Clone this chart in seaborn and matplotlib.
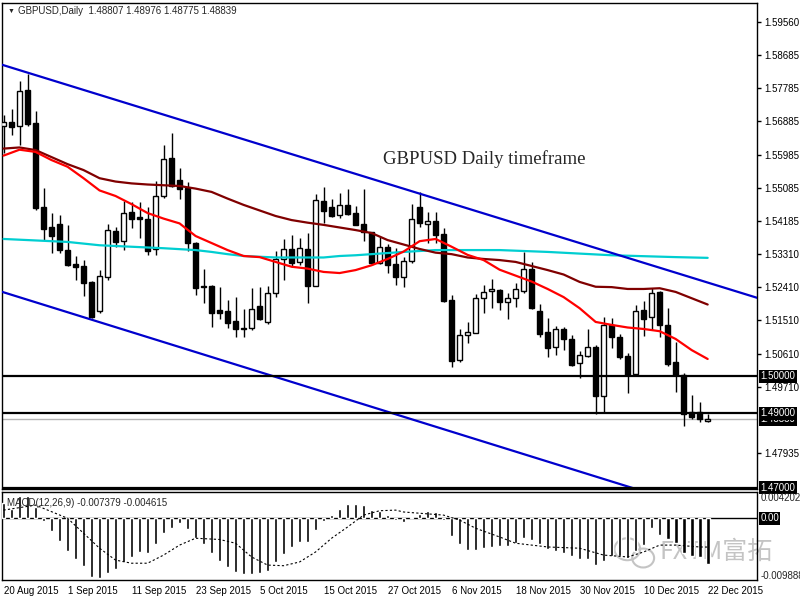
import numpy as np
import pandas as pd
import matplotlib
matplotlib.use("Agg")
import matplotlib.pyplot as plt
import seaborn as sns
from matplotlib.patches import Ellipse

# GBPUSD daily candles, 20 Aug 2015 .. 22 Dec 2015
opens = [1.5677, 1.5686, 1.5677, 1.5773, 1.5683, 1.5457, 1.5402, 1.5411, 1.5340, 1.5303,
         1.5298, 1.5255, 1.5177, 1.5267, 1.5392, 1.5365, 1.5443, 1.5430, 1.5425, 1.5343,
         1.5488, 1.5589, 1.5529, 1.5508, 1.5361, 1.5244, 1.5244, 1.5179, 1.5176, 1.5149,
         1.5130, 1.5130, 1.5190, 1.5147, 1.5224, 1.5316, 1.5343, 1.5308, 1.5344, 1.5245,
         1.5473, 1.5456, 1.5437, 1.5463, 1.5440, 1.5411, 1.5389, 1.5305, 1.5348, 1.5303,
         1.5267, 1.5311, 1.5456, 1.5412, 1.5419, 1.5384, 1.5206, 1.5044, 1.5113, 1.5118,
         1.5211, 1.5230, 1.5233, 1.5200, 1.5211, 1.5230, 1.5289, 1.5176, 1.5120, 1.5080,
         1.5127, 1.5101, 1.5035, 1.5056, 1.5079, 1.4948, 1.5140, 1.5105, 1.5055, 1.5006,
         1.5179, 1.5159, 1.5228, 1.5140, 1.5039, 1.5003, 1.4904, 1.4903, 1.48807]
highs = [1.5706, 1.5721, 1.5798, 1.5816, 1.5716, 1.5509, 1.5440, 1.5436, 1.5409, 1.5325,
         1.5314, 1.5258, 1.5287, 1.5411, 1.5404, 1.5474, 1.5471, 1.5471, 1.5456, 1.5527,
         1.5625, 1.5656, 1.5562, 1.5525, 1.5363, 1.5290, 1.5246, 1.5240, 1.5206, 1.5213,
         1.5182, 1.5238, 1.5242, 1.5244, 1.5338, 1.5371, 1.5381, 1.5373, 1.5386, 1.5492,
         1.5510, 1.5478, 1.5494, 1.5505, 1.5460, 1.5505, 1.5391, 1.5377, 1.5357, 1.5346,
         1.5323, 1.5465, 1.5497, 1.5443, 1.5443, 1.5400, 1.5220, 1.5127, 1.5147, 1.5222,
         1.5246, 1.5263, 1.5235, 1.5224, 1.5251, 1.5336, 1.5309, 1.5195, 1.5157, 1.5136,
         1.5132, 1.5113, 1.5069, 1.5127, 1.5084, 1.5159, 1.5157, 1.5114, 1.5062, 1.5194,
         1.5203, 1.5238, 1.5230, 1.5184, 1.5093, 1.5008, 1.4951, 1.4930, 1.48976]
lows = [1.5603, 1.5652, 1.5625, 1.5676, 1.5449, 1.5368, 1.5334, 1.5332, 1.5298, 1.5260,
        1.5217, 1.5157, 1.5170, 1.5260, 1.5350, 1.5341, 1.5400, 1.5373, 1.5328, 1.5328,
        1.5482, 1.5512, 1.5478, 1.5339, 1.5221, 1.5199, 1.5134, 1.5155, 1.5130, 1.5105,
        1.5107, 1.5125, 1.5152, 1.5141, 1.5215, 1.5260, 1.5296, 1.5301, 1.5199, 1.5244,
        1.5413, 1.5429, 1.5427, 1.5436, 1.5409, 1.5366, 1.5301, 1.5303, 1.5280, 1.5248,
        1.5242, 1.5307, 1.5404, 1.5359, 1.5359, 1.5202, 1.5026, 1.5040, 1.5089, 1.5116,
        1.5172, 1.5185, 1.5179, 1.5154, 1.5188, 1.5224, 1.5182, 1.5107, 1.5053, 1.5057,
        1.5071, 1.5028, 1.4995, 1.5053, 1.4898, 1.4900, 1.5077, 1.5046, 1.4956, 1.5004,
        1.5109, 1.5125, 1.5107, 1.5028, 1.4958, 1.4867, 1.4885, 1.4877, 1.48775]
closes = [1.5686, 1.5672, 1.5771, 1.5681, 1.5455, 1.5399, 1.5380, 1.5341, 1.5302, 1.5296,
          1.5253, 1.5159, 1.5271, 1.5394, 1.5363, 1.5440, 1.5424, 1.5424, 1.5339, 1.5486,
          1.5586, 1.5514, 1.5505, 1.5360, 1.5239, 1.5240, 1.5172, 1.5172, 1.5145, 1.5127,
          1.5127, 1.5181, 1.5154, 1.5224, 1.5316, 1.5343, 1.5307, 1.5346, 1.5245, 1.5475,
          1.5447, 1.5434, 1.5463, 1.5439, 1.5410, 1.5389, 1.5307, 1.5348, 1.5302, 1.5267,
          1.5311, 1.5424, 1.5413, 1.5419, 1.5383, 1.5204, 1.5042, 1.5113, 1.5119, 1.5211,
          1.5227, 1.5236, 1.5201, 1.5211, 1.5235, 1.5289, 1.5184, 1.5115, 1.5077, 1.5127,
          1.5100, 1.5031, 1.5057, 1.5078, 1.4948, 1.5138, 1.5107, 1.5053, 1.5004, 1.5176,
          1.5155, 1.5224, 1.5139, 1.5033, 1.5003, 1.4898, 1.4891, 1.4884, 1.48839]

# moving averages, read every second bar
ma_bars = list(range(0, 89, 2))
ma_fast = [1.5596, 1.5612, 1.5606, 1.5584, 1.5566, 1.5535, 1.5502, 1.5487, 1.5465, 1.5441,
           1.5426, 1.5413, 1.5379, 1.5360, 1.5341, 1.5325, 1.5322, 1.5309, 1.5296, 1.5291,
           1.5282, 1.5279, 1.5287, 1.5300, 1.5317, 1.5337, 1.5365, 1.5371, 1.5350, 1.5328,
           1.5314, 1.5288, 1.5272, 1.5256, 1.5236, 1.5214, 1.5184, 1.5147, 1.5139, 1.5132,
           1.5128, 1.5122, 1.5101, 1.5071, 1.5047]
ma_mid = [1.5615, 1.5618, 1.5611, 1.5592, 1.5573, 1.5557, 1.5535, 1.5526, 1.5521, 1.5518,
          1.5516, 1.5514, 1.5507, 1.5498, 1.5480, 1.5463, 1.5448, 1.5433, 1.5422, 1.5415,
          1.5409, 1.5402, 1.5395, 1.5387, 1.5368, 1.5356, 1.5344, 1.5334, 1.5330, 1.5321,
          1.5317, 1.5314, 1.5309, 1.5298, 1.5287, 1.5275, 1.5255, 1.5242, 1.5241, 1.5236,
          1.5236, 1.5238, 1.5228, 1.5211, 1.5194]
slow_bars = [0, 8, 12, 16, 20, 24, 26, 28, 30, 34, 40, 42, 44, 46, 50, 54, 62, 68, 76, 84, 88]
ma_slow = [1.5371, 1.5363, 1.5354, 1.5350, 1.5346, 1.5341, 1.5336, 1.5330, 1.5325, 1.5321,
           1.5321, 1.5325, 1.5327, 1.5330, 1.5336, 1.5341, 1.5341, 1.5336, 1.5327, 1.5322, 1.5320]

# trend channel anchor points (bar index, price)
chan_x = [-0.44, 94.2]
chan_upper = [1.5843, 1.5212]
chan_lower = [1.5230, 1.4594]

levels = [1.50000, 1.49000, 1.47000]
last_price = 1.48839

# MACD(12,26,9)
macd_main = [0.00245, 0.00155, 0.0035, 0.0035, 0.0018, -0.00043, -0.0020, -0.0037, -0.0053, -0.0065,
             -0.0077, -0.0094, -0.0096, -0.0088, -0.0081, -0.0070, -0.0062, -0.0054, -0.0055, -0.0042,
             -0.0024, -0.0015, -0.0008, -0.0018, -0.0031, -0.0042, -0.0056, -0.0068, -0.0078, -0.0086,
             -0.0090, -0.0090, -0.0088, -0.0084, -0.0070, -0.0058, -0.0046, -0.0038, -0.0038, -0.0019,
             -0.0004, 0.0005, 0.0014, 0.0022, 0.0022, 0.0021, 0.0013, 0.0011, 0.0005, -0.0003,
             -0.0006, 0.0002, 0.0007, 0.0011, 0.0010, -0.0003, -0.0029, -0.0042, -0.0051, -0.0051,
             -0.0048, -0.0046, -0.0044, -0.0044, -0.0039, -0.0032, -0.0035, -0.0042, -0.0050, -0.0053,
             -0.0055, -0.0061, -0.0066, -0.0066, -0.0075, -0.0068, -0.0060, -0.0061, -0.0063, -0.0052,
             -0.0043, -0.0016, -0.0027, -0.0033, -0.0040, -0.0056, -0.0061, -0.0062, -0.007379]
sig_bars = [0, 4, 8, 10, 12, 14, 16, 18, 20, 22, 24, 27, 29, 31, 33, 35, 37, 39, 41, 43,
            45, 47, 49, 50, 52, 55, 57, 59, 62, 64, 68, 72, 75, 78, 80, 82, 84, 87, 88]
macd_signal = [0.0013, 0.0021, 0.0, -0.0024, -0.0048, -0.0067, -0.0072, -0.0072, -0.0059, -0.0043,
               -0.0032, -0.0034, -0.0040, -0.0062, -0.0075, -0.0076, -0.0070, -0.0054, -0.0032, -0.0014,
               0.0005, 0.0012, 0.0013, 0.0010, 0.0008, 0.0005, -0.0003, -0.0016, -0.0030, -0.0040,
               -0.0046, -0.0048, -0.0059, -0.0062, -0.0054, -0.0043, -0.0043, -0.0046, -0.004615]

date_bars = list(range(0, 89, 8))
date_labels = ["20 Aug 2015", "1 Sep 2015", "11 Sep 2015", "23 Sep 2015", "5 Oct 2015",
               "15 Oct 2015", "27 Oct 2015", "6 Nov 2015", "18 Nov 2015", "30 Nov 2015",
               "10 Dec 2015", "22 Dec 2015"]
price_ticks = [1.59560, 1.58685, 1.57785, 1.56885, 1.55985, 1.55085, 1.54185,
               1.53310, 1.52410, 1.51510, 1.50610, 1.49710, 1.47935]

sns.set_style("white")
plt.rcParams['font.family'] = ['Liberation Sans', 'DejaVu Sans']

df = pd.DataFrame({'o': opens, 'h': highs, 'l': lows, 'c': closes})
df['bar'] = np.arange(len(df))
bull = (df.c >= df.o).values
body_lo = np.minimum(df.o, df.c).values
body_h = np.maximum((df.c - df.o).abs().values, 0.00006)

fig = plt.figure(figsize=(8, 6), dpi=100)
ax = fig.add_axes([0.0025, 0.185, 0.944, 0.81])
ax2 = fig.add_axes([0.0025, 0.0333, 0.944, 0.1467])
xlim = (-0.19, 94.19)

# candles
ax.vlines(df.bar, df.l, df.h, color='black', lw=1, zorder=2)
ax.bar(df.bar[bull], body_h[bull], bottom=body_lo[bull], width=0.68,
       color='white', edgecolor='black', lw=1, zorder=3)
ax.bar(df.bar[~bull], body_h[~bull], bottom=body_lo[~bull], width=0.68,
       color='black', edgecolor='black', lw=1, zorder=3)

# moving averages and channel
sns.lineplot(x=slow_bars, y=ma_slow, ax=ax, color='#00CED1', lw=1.6, zorder=4)
sns.lineplot(x=ma_bars, y=ma_mid, ax=ax, color='#800000', lw=1.6, zorder=4)
sns.lineplot(x=ma_bars, y=ma_fast, ax=ax, color='#FF0000', lw=1.6, zorder=4)
ax.plot(chan_x, chan_upper, color='#0000CD', lw=1.6, zorder=4)
ax.plot(chan_x, chan_lower, color='#0000CD', lw=1.6, zorder=4)

for lv in levels:
    ax.axhline(lv, color='black', lw=1.6, zorder=5)
ax.axhline(last_price, color='#b4b4b4', lw=1, zorder=1)

ax.set_xlim(xlim)
ax.set_ylim(1.4696, 1.6008)
ax.set_xticks([])
ax.yaxis.tick_right()
ax.set_yticks(price_ticks)
ax.set_yticklabels([f"{t:.5f}" for t in price_ticks])
ax.tick_params(axis='y', length=3, width=1, labelsize=7, pad=2, colors='black', direction='out')

# price boxes on the right scale; the current price box sits under the 1.49000 one
tr = ax.get_yaxis_transform()
for k, lv in enumerate([last_price] + levels):
    ax.text(1.004, lv, f"{lv:.5f}", transform=tr, ha='left', va='center', fontsize=7,
            color='white', zorder=10 + k,
            bbox=dict(boxstyle='square,pad=0.15', fc='black', ec='none'))

ax.text(0.008, 0.9835, "\u25BC", transform=ax.transAxes, fontsize=5, va='center', ha='left')
ax.text(0.021, 0.9835, "GBPUSD,Daily  1.48807 1.48976 1.48775 1.48839",
        transform=ax.transAxes, fontsize=7, va='center', ha='left')
ax.text(0.505, 0.679, "GBPUSD Daily timeframe", transform=ax.transAxes, fontsize=13.5,
        family=['Liberation Serif', 'DejaVu Serif'], va='center', ha='left', zorder=6)

# MACD panel
ax2.bar(np.arange(len(macd_main)), macd_main, width=0.46, color='black', zorder=3)
sns.lineplot(x=sig_bars, y=macd_signal, ax=ax2, color='black', lw=0.8,
             linestyle=(0, (2, 2)), zorder=4)
ax2.axhline(0, color='black', lw=1, zorder=2)
ax2.set_xlim(xlim)
ax2.set_ylim(-0.00989, 0.0042)
ax2.set_yticks([])
ax2.set_xticks(date_bars)
ax2.set_xticklabels(date_labels, ha='left')
ax2.tick_params(axis='x', length=3, width=1, labelsize=7, pad=1, colors='black', direction='out')
ax2.text(1.004, 0.93, "0.004202", transform=ax2.transAxes, fontsize=7, va='center', ha='left')
ax2.text(1.004, 0.045, "-0.009888", transform=ax2.transAxes, fontsize=7, va='center', ha='left')
ax2.text(1.004, 0.0, "0.00", transform=ax2.get_yaxis_transform(), fontsize=7, va='center',
         ha='left', color='white', bbox=dict(boxstyle='square,pad=0.15', fc='black', ec='none'))
ax2.text(0.007, 0.87, "MACD(12,26,9) -0.007379 -0.004615", transform=ax2.transAxes,
         fontsize=7, va='center', ha='left', zorder=6)

# watermark, behind the histogram
wm = '#c4c4c4'
ax2.add_patch(Ellipse((0.828, 0.35), 0.034, 0.25, transform=ax2.transAxes,
                      fc='none', ec=wm, lw=1.5, zorder=1))
ax2.add_patch(Ellipse((0.849, 0.25), 0.029, 0.215, transform=ax2.transAxes,
                      fc='none', ec=wm, lw=1.5, zorder=1))
ax2.text(0.870, 0.32, "FXTM富拓", transform=ax2.transAxes, fontsize=18, color=wm,
         family=['Noto Sans CJK SC', 'DejaVu Sans'], va='center', ha='left', zorder=1)

for a in (ax, ax2):
    for s in a.spines.values():
        s.set_color('black')
        s.set_linewidth(1)
    a.set_xlabel('')
    a.set_ylabel('')
    if a.get_legend():
        a.get_legend().remove()

fig.savefig("out.png", dpi=100, facecolor='white')
